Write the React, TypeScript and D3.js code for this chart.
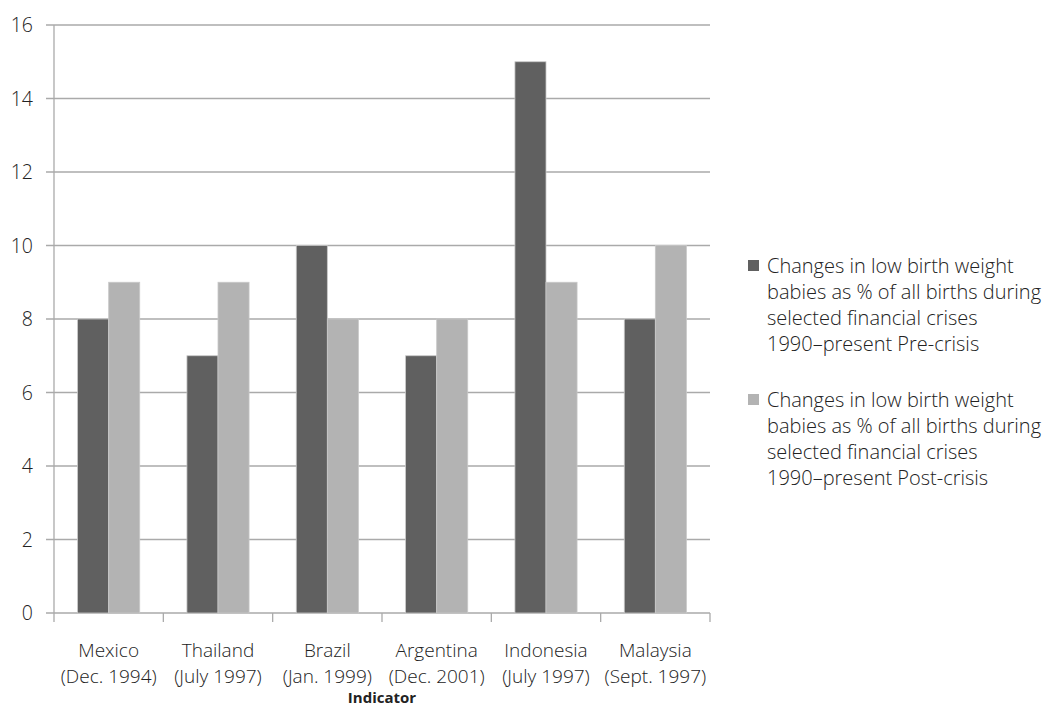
import React from "react";
import * as d3 from "d3";

const categories = ["Mexico|(Dec. 1994)", "Thailand|(July 1997)", "Brazil|(Jan. 1999)", "Argentina|(Dec. 2001)", "Indonesia|(July 1997)", "Malaysia|(Sept. 1997)"];
const preCrisis = [8, 7, 10, 7, 15, 8];
const postCrisis = [9, 9, 8, 8, 9, 10];
const yTicks = [0, 2, 4, 6, 8, 10, 12, 14, 16];
const seriesNames = [
  ["Changes in low birth weight", "babies as % of all births during", "selected financial crises", "1990\u2013present Pre-crisis"],
  ["Changes in low birth weight", "babies as % of all births during", "selected financial crises", "1990\u2013present Post-crisis"],
];
const colors = ["#606060", "#b3b3b3"];

export default function App() {
  const W = 1051, H = 720;
  const left = 54, right = 710, top = 25, bottom = 613;
  const x = d3.scaleBand<number>().domain(d3.range(categories.length)).range([left, right]).paddingInner(0).paddingOuter(0);
  const inner = d3.scaleBand<number>().domain([0, 1]).range([0, x.bandwidth()]).paddingOuter(0.76).paddingInner(0);
  const y = d3.scaleLinear().domain([0, 16]).range([bottom, top]);
  const font = "'Open Sans', Lato, sans-serif";
  const series = [preCrisis, postCrisis];
  return (
    <svg width={W} height={H} style={{ position: "absolute", left: 0, top: 0, fontFamily: font }}>
      <rect width={W} height={H} fill="#fff" />
      {yTicks.map((t) => (
        <g key={t}>
          <line x1={46} x2={right} y1={y(t)} y2={y(t)} stroke="#aaaaaa" strokeWidth={1.3} />
          <text x={33} y={y(t)} dy="0.36em" textAnchor="end" fontSize={19.5} fontWeight={300} fill="#222">{t}</text>
        </g>
      ))}
      <line x1={left} x2={left} y1={top} y2={bottom} stroke="#aaaaaa" strokeWidth={1.3} />
      {d3.range(categories.length + 1).map((i) => {
        const xx = i < categories.length ? x(i)! : right;
        return <line key={i} x1={xx} x2={xx} y1={bottom} y2={bottom + 9} stroke="#aaaaaa" strokeWidth={1.3} />;
      })}
      {series.map((s, si) =>
        s.map((v, i) => (
          <rect key={si + "-" + i} x={x(i)! + inner(si)!} y={y(v)} width={inner.bandwidth()} height={y(0) - y(v)}
            fill={colors[si]} stroke="#c8c8c8" strokeWidth={0.8} />
        ))
      )}
      {categories.map((c, i) => {
        const [a, b] = c.split("|");
        const cx = x(i)! + x.bandwidth() / 2;
        return (
          <text key={c} x={cx} textAnchor="middle" fontSize={19} fontWeight={300} fill="#222">
            <tspan x={cx} y={657}>{a}</tspan>
            <tspan x={cx} y={683}>{b}</tspan>
          </text>
        );
      })}
      <text x={382} y={703} textAnchor="middle" fontSize={15} fontWeight="bold" fill="#222">Indicator</text>
      {seriesNames.map((lines, si) => {
        const y0 = 266 + si * 134;
        return (
          <g key={si}>
            <rect x={748} y={y0 - 6} width={11} height={11} fill={colors[si]} />
            {lines.map((l, li) => (
              <text key={li} x={767} y={y0 + li * 26} dy="0.36em" fontSize={20} fontWeight={300} fill="#222">{l}</text>
            ))}
          </g>
        );
      })}
    </svg>
  );
}
